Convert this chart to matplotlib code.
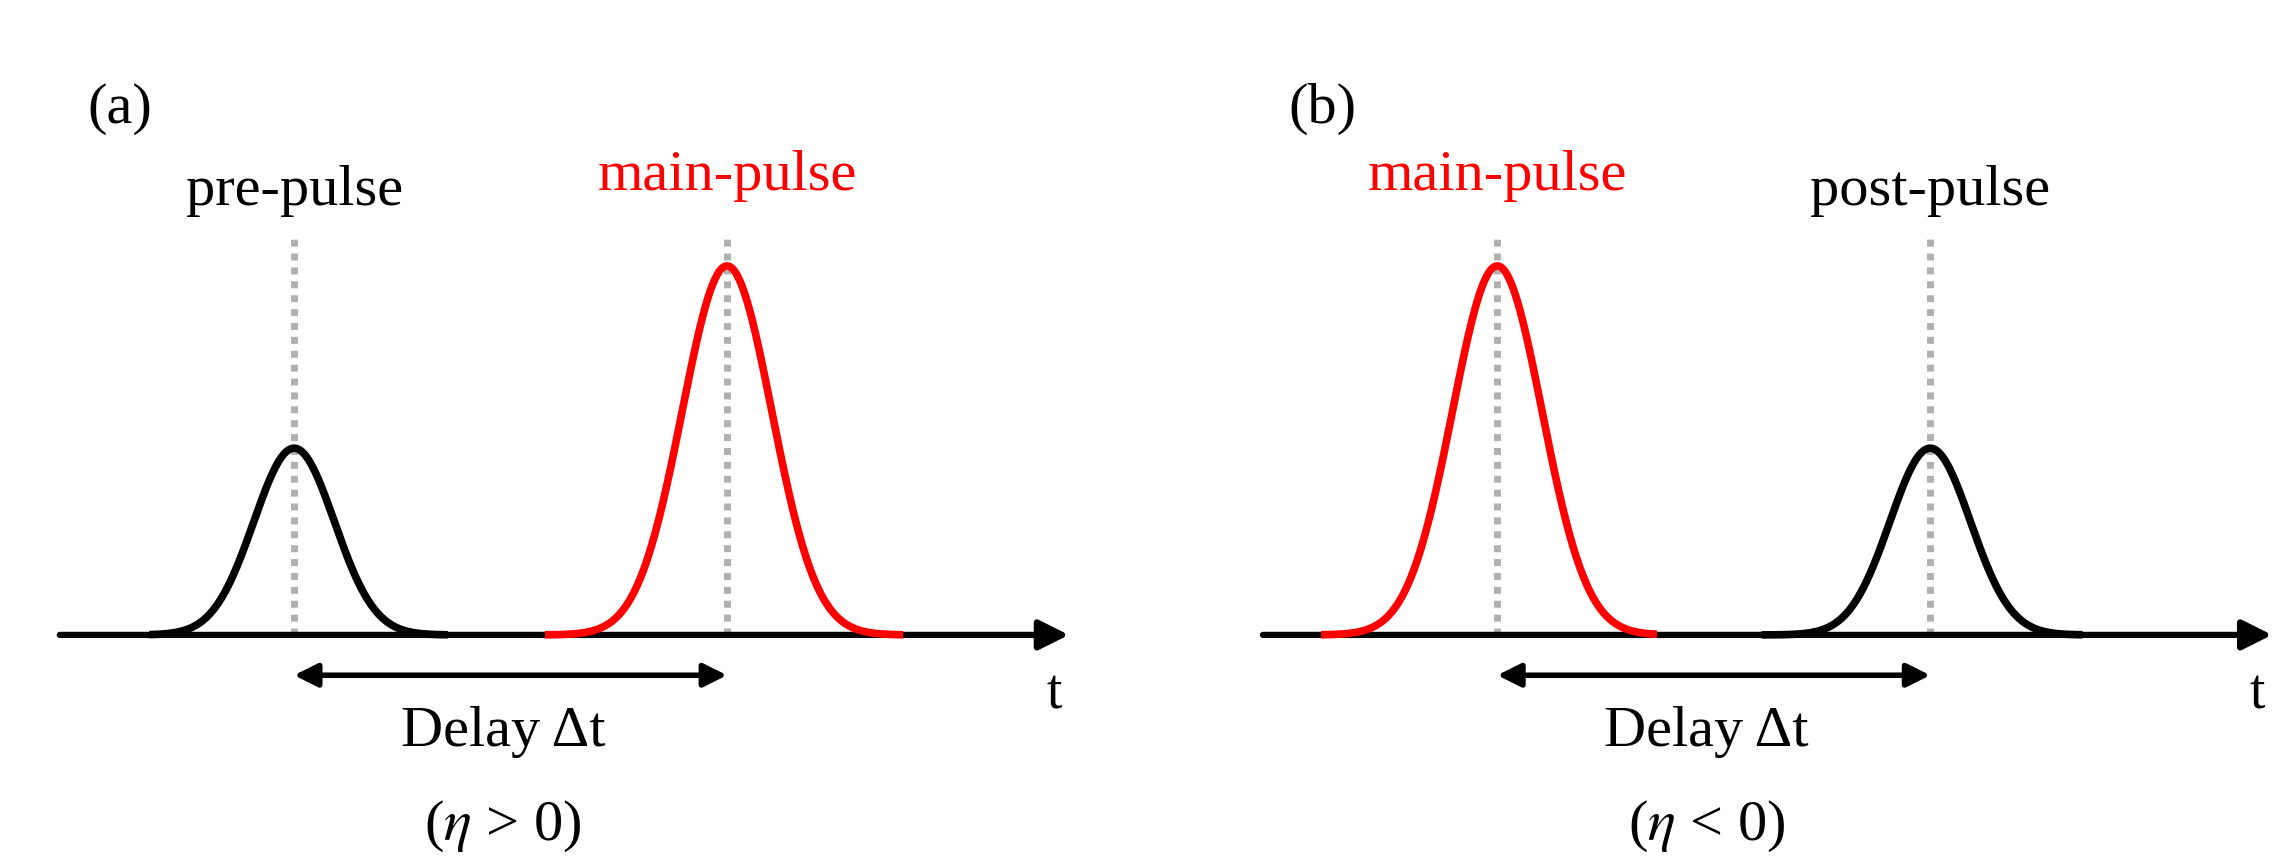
import numpy as np
import matplotlib.pyplot as plt

plt.rcParams['font.family'] = ['Liberation Serif', 'DejaVu Serif']
plt.rcParams['mathtext.fontset'] = 'stix'

# coordinates in the reference's displayed pixel frame (1530 x 575)
panel_labels = ['(a)', '(b)']
panel_offsets = [0, 806]
# pulses: (center, amplitude, sigma, start, end, color, label)
pulses_a = [(197, 125, 27, 100, 300, 'black', 'pre-pulse'),
            (487, 247, 30, 365, 605, 'red', 'main-pulse')]
pulses_b = [(1003, 247, 30, 885, 1110, 'red', 'main-pulse'),
            (1293, 125, 27, 1180, 1395, 'black', 'post-pulse')]
eta_labels = [r'($\eta$ > 0)', r'($\eta$ < 0)']
baseline = 425

fig = plt.figure(figsize=(22.84, 8.59), dpi=100)
ax = fig.add_axes([0, 0, 1, 1])
ax.set_xlim(0, 1530)
ax.set_ylim(575, 0)
ax.axis('off')

for off, lab, pulses, eta in zip(panel_offsets, panel_labels, [pulses_a, pulses_b], eta_labels):
    # time axis
    ax.annotate('', xy=(off + 716, baseline), xytext=(off + 40, baseline),
                annotation_clip=False,
                arrowprops=dict(arrowstyle='-|>', color='black', lw=4.5,
                                mutation_scale=45, shrinkA=0, shrinkB=0))
    ax.text(off + 706, 465, 't', fontsize=40, ha='center', va='center')
    ax.text(off + 80, 73, lab, fontsize=42, ha='center', va='center')
    for c, amp, sig, x0, x1, col, name in pulses:
        x = np.linspace(x0, x1, 300)
        y = baseline - amp * np.exp(-(x - c) ** 2 / (2 * sig ** 2))
        ax.plot([c, c], [baseline, 157], color='#b0b0b0',
                lw=5, ls=(0, (1, 1)), zorder=1)
        ax.plot(x, y, color=col, lw=5.5, zorder=3, solid_capstyle='butt')
        ax.text(c, 118 if amp > 200 else 128, name, fontsize=42, color=col,
                ha='center', va='center')
    c1, c2 = pulses[0][0], pulses[1][0]
    ax.annotate('', xy=(c2, 452), xytext=(c1, 452), annotation_clip=False,
                arrowprops=dict(arrowstyle='<|-|>', color='black', lw=4,
                                mutation_scale=35, shrinkA=0, shrinkB=0))
    mid = (c1 + c2) / 2 - 5
    ax.text(mid, 490, 'Delay Δt', fontsize=42, ha='center', va='center')
    ax.text(mid, 553, eta, fontsize=42, ha='center', va='center')

fig.savefig('out.png', dpi=100, facecolor='white')
